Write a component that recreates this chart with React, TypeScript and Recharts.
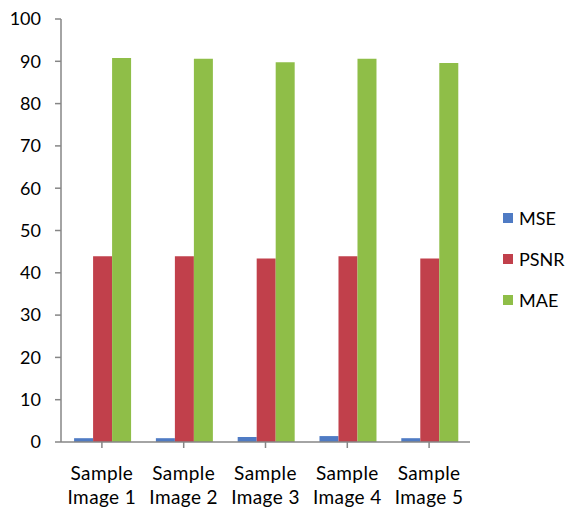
import { BarChart, Bar, XAxis, YAxis, Legend } from 'recharts';

const categories = ['Sample Image 1', 'Sample Image 2', 'Sample Image 3', 'Sample Image 4', 'Sample Image 5'];
const mse = [0.9, 0.9, 1.2, 1.4, 0.9];
const psnr = [43.9, 43.9, 43.4, 43.9, 43.4];
const mae = [90.8, 90.6, 89.8, 90.6, 89.6];
const yTicks = [0, 10, 20, 30, 40, 50, 60, 70, 80, 90, 100];

const series = [
  { key: 'mse', name: 'MSE', color: '#4F7BC4' },
  { key: 'psnr', name: 'PSNR', color: '#C1404B' },
  { key: 'mae', name: 'MAE', color: '#8FBE48' },
];

const data = categories.map((name, i) => ({
  name,
  mse: mse[i],
  psnr: psnr[i],
  mae: mae[i],
}));

const FONT = 'Lato, "Open Sans", sans-serif';
const AXIS = '#868686';

interface TickProps {
  x?: number;
  y?: number;
  payload?: { value: string };
}

function CategoryTick({ x = 0, y = 0, payload }: TickProps) {
  const words = (payload?.value ?? '').split(' ');
  const first = words[0];
  const second = words.slice(1).join(' ');
  return (
    <text x={x} y={y} textAnchor="middle" fontFamily={FONT} fontSize={19} fill="#000" letterSpacing={0.4}>
      <tspan x={x} dy={30}>{first}</tspan>
      <tspan x={x} dy={24}>{second}</tspan>
    </text>
  );
}

function LegendBox() {
  return (
    <div style={{ width: 72, fontFamily: FONT, fontSize: 18, color: '#000' }}>
      {series.map((s) => (
        <div key={s.key} style={{ display: 'flex', alignItems: 'center', height: 41 }}>
          <span style={{ width: 10, height: 10, background: s.color, marginRight: 6, flexShrink: 0 }} />
          <span>{s.name}</span>
        </div>
      ))}
    </div>
  );
}

export default function App() {
  return (
    <div style={{ position: 'absolute', left: 0, top: 0, background: '#fff' }}>
      <BarChart
        width={574}
        height={514}
        data={data}
        margin={{ top: 19, right: 32, left: 0, bottom: 0 }}
        barCategoryGap="16%"
        barGap={0}
      >
        <XAxis
          dataKey="name"
          height={72}
          stroke={AXIS}
          strokeWidth={1.5}
          tickSize={6}
          tickLine={{ stroke: AXIS }}
          tick={<CategoryTick />}
          interval={0}
        />
        <YAxis
          domain={[0, 100]}
          ticks={yTicks}
          width={61}
          stroke={AXIS}
          strokeWidth={1.5}
          tickSize={6}
          tickMargin={14}
          tick={{ fontFamily: FONT, fontSize: 18, fill: '#000' }}
          interval={0}
        />
        <Legend
          layout="vertical"
          align="right"
          verticalAlign="middle"
          content={<LegendBox />}
          wrapperStyle={{ left: 503, top: 197, width: 72 }}
        />
        {series.map((s) => (
          <Bar key={s.key} dataKey={s.key} name={s.name} fill={s.color} isAnimationActive={false} />
        ))}
      </BarChart>
    </div>
  );
}
